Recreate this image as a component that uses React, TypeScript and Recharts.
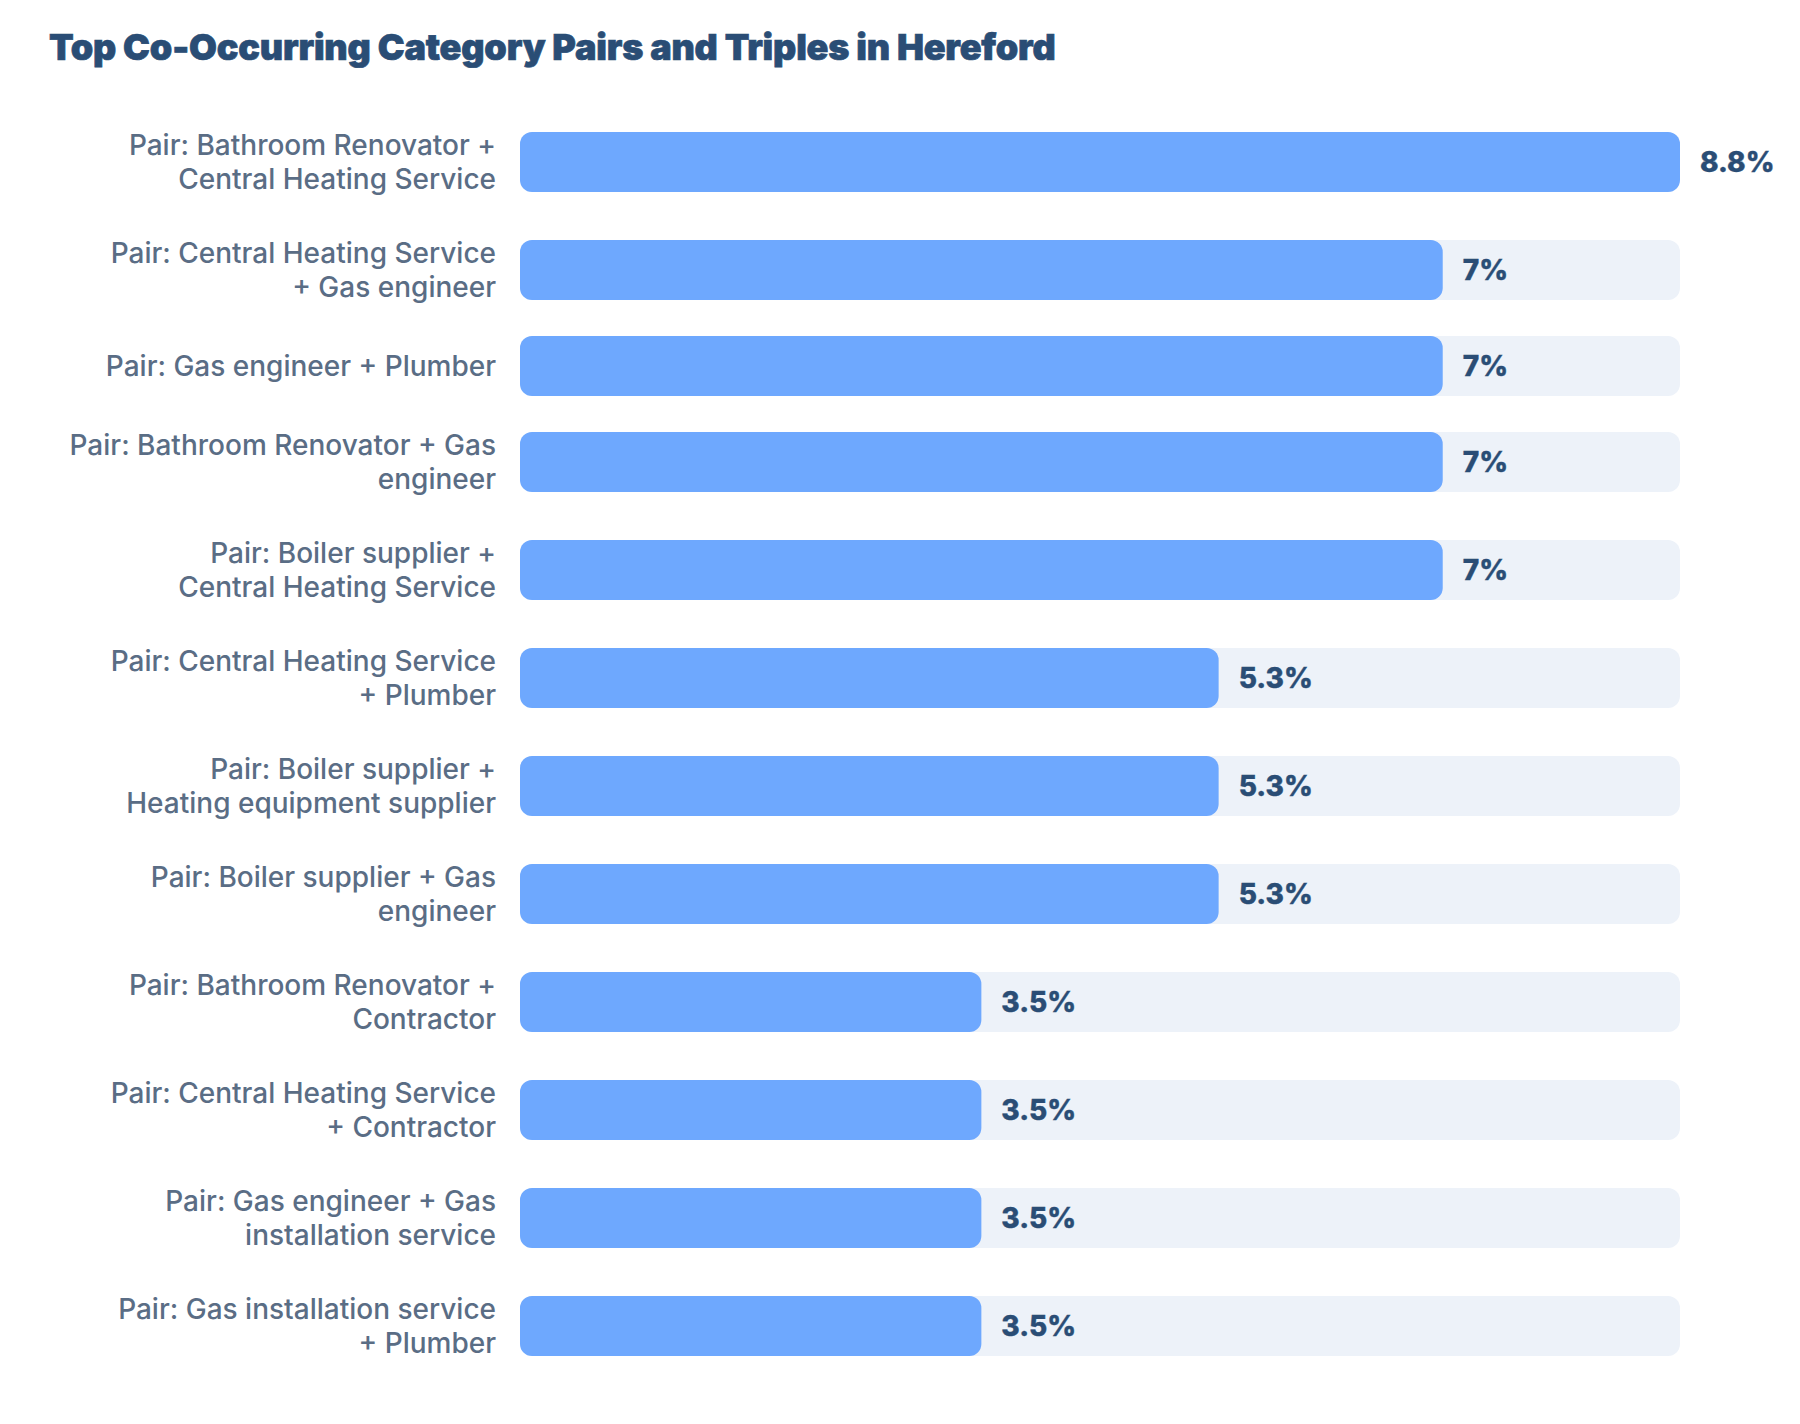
import { BarChart, Bar, XAxis, YAxis, LabelList } from 'recharts';

const categories = [
  'Pair: Bathroom Renovator +\nCentral Heating Service',
  'Pair: Central Heating Service\n+ Gas engineer',
  'Pair: Gas engineer + Plumber',
  'Pair: Bathroom Renovator + Gas\nengineer',
  'Pair: Boiler supplier +\nCentral Heating Service',
  'Pair: Central Heating Service\n+ Plumber',
  'Pair: Boiler supplier +\nHeating equipment supplier',
  'Pair: Boiler supplier + Gas\nengineer',
  'Pair: Bathroom Renovator +\nContractor',
  'Pair: Central Heating Service\n+ Contractor',
  'Pair: Gas engineer + Gas\ninstallation service',
  'Pair: Gas installation service\n+ Plumber',
];
const shares = [8.8, 7, 7, 7, 7, 5.3, 5.3, 5.3, 3.5, 3.5, 3.5, 3.5];
const maxShare = 8.8;

const FONT = 'Inter, sans-serif';

// labels can be one or two lines, so each row gets its own little chart
function CategoryTick({ x, y, payload }: any) {
  const lines = String(payload.value).split('\n');
  const lineHeight = 33.6;
  const top = y - ((lines.length - 1) * lineHeight) / 2;
  return (
    <text x={x} textAnchor="end" fontFamily={FONT} fontSize={28} fontWeight={500} fill="#5a6d85">
      {lines.map((line, i) => (
        <tspan key={i} x={x} y={top + i * lineHeight} dy="0.36em">{line}</tspan>
      ))}
    </text>
  );
}

function Row({ name, value }: { name: string; value: number }) {
  const oneLine = !name.includes('\n');
  return (
    <div style={{ display: 'flow-root', height: oneLine ? 48 : 72, marginBottom: 36 }}>
      <div style={{ marginTop: oneLine ? -12 : 0 }}>
        <BarChart
          width={1800}
          height={72}
          data={[{ name, value }]}
          layout="vertical"
          margin={{ top: 0, right: 120, bottom: 0, left: 0 }}
          barCategoryGap={0}
        >
          <XAxis type="number" domain={[0, maxShare]} hide />
          <YAxis
            type="category"
            dataKey="name"
            width={520}
            axisLine={false}
            tickLine={false}
            tickSize={0}
            tickMargin={24}
            tick={<CategoryTick />}
          />
          <Bar
            dataKey="value"
            barSize={60}
            fill="#6ea8fe"
            radius={12}
            background={{ fill: '#edf2f9', radius: 12 }}
            isAnimationActive={false}
          >
            <LabelList
              dataKey="value"
              position="right"
              offset={20}
              formatter={(v: number) => `${v}%`}
              style={{ fontFamily: FONT, fontSize: 28, fontWeight: 800, fill: '#2a4d75', stroke: '#2a4d75', strokeWidth: 0.4 }}
            />
          </Bar>
        </BarChart>
      </div>
    </div>
  );
}

export default function App() {
  return (
    <div style={{ position: 'absolute', left: 0, top: 0, width: 1800, height: 1424, background: '#fff', overflow: 'hidden' }}>
      <div
        style={{
          position: 'absolute',
          left: 49,
          top: 24,
          fontFamily: FONT,
          fontSize: 36,
          lineHeight: '46px',
          fontWeight: 900,
          letterSpacing: -0.18,
          WebkitTextStroke: '0.7px #2a4d75',
          color: '#2a4d75',
          whiteSpace: 'nowrap',
        }}
      >
        Top Co-Occurring Category Pairs and Triples in Hereford
      </div>
      <div style={{ position: 'absolute', left: 0, top: 126, width: 1800 }}>
        {categories.map((name, i) => (
          <Row key={name} name={name} value={shares[i]} />
        ))}
      </div>
    </div>
  );
}
